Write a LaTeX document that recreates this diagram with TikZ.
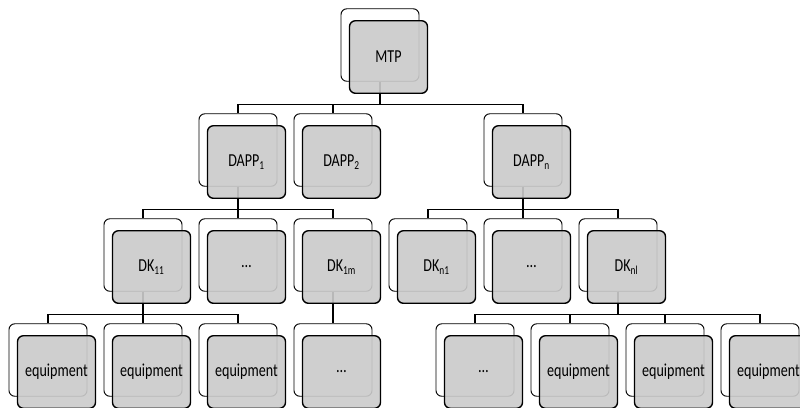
\documentclass[tikz,border=0pt]{standalone}
\usepackage{fontspec}
\setmainfont{Carlito}
\usetikzlibrary{positioning, calc}
\definecolor{boxgray}{RGB}{203,203,203}
\newcommand{\lbl}[1]{\scalebox{1}[1.3]{#1}}

\begin{document}
\begin{tikzpicture}[
  x=0.03cm, y=-0.03cm,
  back/.style = {draw, line width=0.8pt, fill=white, rounded corners=5pt, minimum width=2.34cm, minimum height=2.175cm, inner sep=0pt},
  front/.style = {back, line width=1.2pt, fill=boxgray, fill opacity=0.91, text opacity=1, font=\fontsize{12}{14}\selectfont},
  link/.style = {line width=1.2pt}
]
\useasboundingbox (0,0) rectangle (800,407);
\clip (0,0) rectangle (800,407);

% Back boxes
\foreach \n/\x/\y in {mtp/380/45, dapp1/238/150, dapp2/333/150, dappn/523/150,
  dk11/143/255, dk1x/238/255, dk1m/333/255, dkn1/428/255, dknx/523/255, dknl/618/255,
  eq1/48/360, eq2/143/360, eq3/238/360, eqx/333/360, eqy/475/360, eq4/570/360, eq5/665/360, eq6/760/360}
  \node[back] (\n) at (\x,\y) {};

% Connections
\foreach \p/\c in {mtp/dapp1, mtp/dapp2, mtp/dappn,
  dapp1/dk11, dapp1/dk1x, dapp1/dk1m, dappn/dkn1, dappn/dknx, dappn/dknl,
  dk11/eq1, dk11/eq2, dk11/eq3, dk1m/eqx, dknl/eqy, dknl/eq4, dknl/eq5, dknl/eq6}
  \draw[link] (\p.south) |- ($(\c.north)+(0,-9)$) -- (\c.north);

% Front boxes
\foreach \n/\t in {mtp/MTP, dapp1/DAPP\textsubscript{1}, dapp2/DAPP\textsubscript{2}, dappn/DAPP\textsubscript{n},
  dk11/DK\textsubscript{11}, dk1x/\dots, dk1m/DK\textsubscript{1m}, dkn1/DK\textsubscript{n1}, dknx/\dots, dknl/DK\textsubscript{nl},
  eq1/equipment, eq2/equipment, eq3/equipment, eqx/\dots, eqy/\dots, eq4/equipment, eq5/equipment, eq6/equipment}
  \node[front] at ([shift={(8.5,12)}]\n.center) {\lbl{\t}};

\end{tikzpicture}
\end{document}
